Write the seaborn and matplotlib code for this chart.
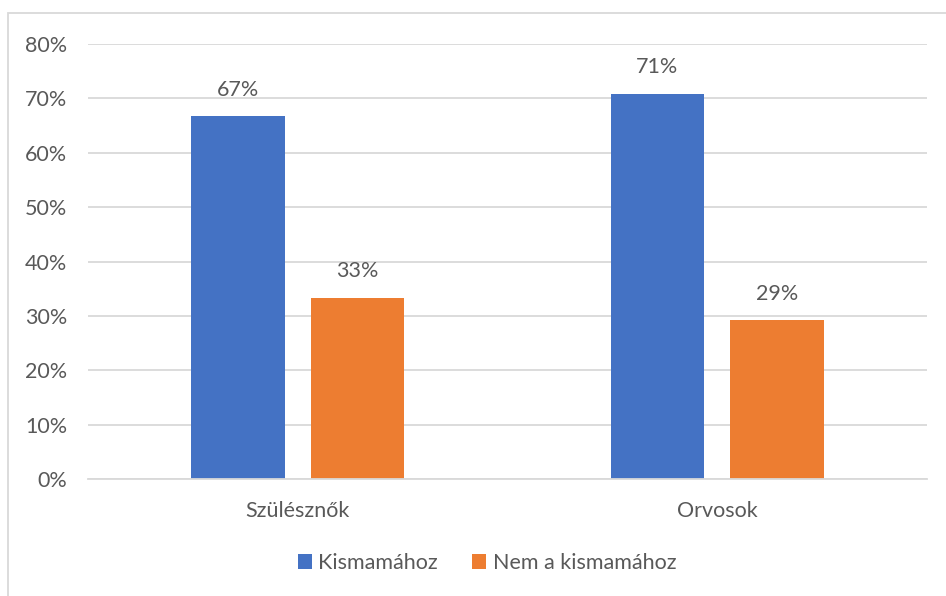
import matplotlib
matplotlib.use("Agg")
import matplotlib.pyplot as plt
from matplotlib.patches import Rectangle, Patch
import seaborn as sns
import pandas as pd

categories = ["Szülésznők", "Orvosok"]
series_names = ["Kismamához", "Nem a kismamához"]
kismamahoz = [0.6667, 0.708]
nem_kismamahoz = [0.3333, 0.292]
y_ticks = [0.0, 0.1, 0.2, 0.3, 0.4, 0.5, 0.6, 0.7, 0.8]
colors = ["#4472C4", "#ED7D31"]

df = pd.DataFrame({
    "kategoria": categories * 2,
    "sorozat": [series_names[0]] * 2 + [series_names[1]] * 2,
    "arany": kismamahoz + nem_kismamahoz,
})

sns.set_theme(style="white")
plt.rcParams["font.family"] = ["Lato", "DejaVu Sans"]
text_color = "#595959"
grid_color = "#D9D9D9"
fs = 15.5

W, H = 946, 596
fig = plt.figure(figsize=(W / 100, H / 100), dpi=100)
fig.patch.set_facecolor("white")

# chart frame
fig.patches.append(Rectangle((8 / W, -0.05), 1.2, 1 - 13 / H + 0.05,
                             transform=fig.transFigure, fill=False,
                             edgecolor=grid_color, linewidth=1.3))

ax = fig.add_axes([88 / W, 1 - 479 / H, (927 - 88) / W, (479 - 44) / H])
sns.barplot(data=df, x="kategoria", y="arany", hue="sorozat",
            order=categories, hue_order=series_names, palette=colors,
            width=0.57, gap=0.22, saturation=1, ax=ax, legend=False,
            edgecolor="none", linewidth=0)

ax.set_ylim(0, 0.8)
ax.set_xlim(-0.5, 1.5)
ax.set_yticks(y_ticks)
ax.set_yticklabels([f"{int(round(t * 100))}%" for t in y_ticks])
ax.set_xlabel("")
ax.set_ylabel("")
ax.yaxis.grid(True, color=grid_color, linewidth=1.3)
ax.set_axisbelow(True)
for s in ["left", "right", "top"]:
    ax.spines[s].set_visible(False)
ax.spines["bottom"].set_color(grid_color)
ax.spines["bottom"].set_linewidth(1.3)
ax.tick_params(axis="both", length=0, labelsize=fs, colors=text_color)
ax.tick_params(axis="y", pad=15)
ax.tick_params(axis="x", pad=16)

for cont in ax.containers:
    for bar in cont:
        v = bar.get_height()
        ax.annotate(f"{int(round(v * 100))}%",
                    (bar.get_x() + bar.get_width() / 2, v),
                    xytext=(0, 12), textcoords="offset points",
                    ha="center", va="bottom", fontsize=fs, color=text_color)

handles = [Patch(facecolor=c, edgecolor="none") for c in colors]
fig.legend(handles, series_names, loc="center", bbox_to_anchor=(487 / W, 1 - 563 / H),
           ncol=2, frameon=False, fontsize=fs, labelcolor=text_color,
           handlelength=0.65, handleheight=0.65, handletextpad=0.3, columnspacing=1.6)

fig.savefig("out.png", dpi=100, facecolor="white")
